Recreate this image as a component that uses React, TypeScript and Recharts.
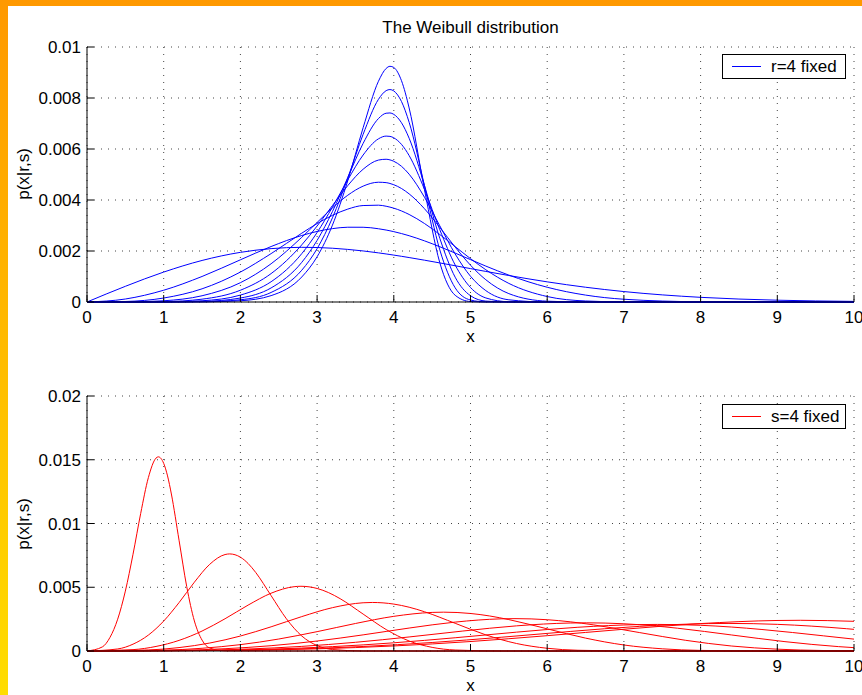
import { LineChart, Line, XAxis, YAxis, CartesianGrid, Legend } from 'recharts';

const FONT = "'Liberation Sans', Arial, Helvetica, sans-serif";

// axis ticks
const xTicks = [0, 1, 2, 3, 4, 5, 6, 7, 8, 9, 10];
const topYTicks = [0, 0.002, 0.004, 0.006, 0.008, 0.01];
const bottomYTicks = [0, 0.005, 0.01, 0.015, 0.02];

// upper panel: r = 4 fixed, s = 2..10 (shared x samples)
const topX = [0, 0.5, 1, 1.5, 2, 2.4, 2.8, 3, 3.2, 3.4, 3.6, 3.8, 3.9, 3.95, 4, 4.1, 4.2, 4.4, 4.6, 4.8, 5, 5.2, 5.5, 6, 6.5, 7, 8, 9, 10];
const shape2 = [0, 0.000615, 0.001174, 0.001629, 0.001947, 0.002093, 0.002144, 0.002137, 0.002109, 0.002063, 0.002002, 0.001927, 0.001884, 0.001862, 0.001839, 0.001792, 0.001743, 0.00164, 0.001532, 0.001422, 0.00131, 0.001199, 0.001038, 0.00079, 0.000579, 0.000409, 0.000183, 0.000071, 0.000024];
const shape3 = [0, 0.000117, 0.000462, 0.001001, 0.001655, 0.002175, 0.002608, 0.002767, 0.002877, 0.002932, 0.002931, 0.002872, 0.002822, 0.002792, 0.002759, 0.002684, 0.002599, 0.002398, 0.002167, 0.001918, 0.001662, 0.001408, 0.001054, 0.000578, 0.000271, 0.000108, 0.00001, 0, 0];
const shape4 = [0, 0.00002, 0.000156, 0.000517, 0.001174, 0.001897, 0.002698, 0.003075, 0.003399, 0.003643, 0.003783, 0.003797, 0.003755, 0.003721, 0.003679, 0.003571, 0.003433, 0.003078, 0.002646, 0.002172, 0.0017, 0.001264, 0.000729, 0.000214, 0.00004, 0.000005, 0, 0, 0];
const shape5 = [0, 0.000003, 0.000049, 0.000245, 0.000757, 0.001499, 0.002537, 0.003119, 0.00369, 0.004187, 0.004544, 0.004697, 0.004681, 0.004648, 0.004599, 0.004451, 0.00424, 0.003657, 0.002925, 0.002153, 0.001443, 0.000872, 0.000328, 0.000032, 0.000001, 0, 0, 0, 0];
const shape6 = [0, 0, 0.000015, 0.000111, 0.000462, 0.001113, 0.002241, 0.00298, 0.003782, 0.004565, 0.005206, 0.005566, 0.005598, 0.005573, 0.005518, 0.005322, 0.005012, 0.004109, 0.002986, 0.001884, 0.001009, 0.000446, 0.000086, 0.000001, 0, 0, 0, 0, 0];
const shape7 = [0, 0, 0.000004, 0.000049, 0.000271, 0.000794, 0.001896, 0.002725, 0.00372, 0.00479, 0.005764, 0.006399, 0.006506, 0.006495, 0.006438, 0.006182, 0.005743, 0.004415, 0.002832, 0.001452, 0.000568, 0.000159, 0.000011, 0, 0, 0, 0, 0, 0];
const shape8 = [0, 0, 0.000001, 0.000021, 0.000156, 0.000551, 0.001555, 0.002415, 0.003546, 0.004882, 0.00622, 0.007194, 0.007403, 0.007414, 0.007358, 0.00703, 0.006422, 0.004567, 0.002497, 0.000973, 0.000246, 0.000036, 0.000001, 0, 0, 0, 0, 0, 0];
const shape9 = [0, 0, 0, 0.000009, 0.000088, 0.000374, 0.001246, 0.00209, 0.003301, 0.004864, 0.006575, 0.007948, 0.008288, 0.008331, 0.008277, 0.007863, 0.007048, 0.004565, 0.002042, 0.000556, 0.000078, 0.000005, 0, 0, 0, 0, 0, 0, 0];
const shape10 = [0, 0, 0, 0.000004, 0.000049, 0.00025, 0.000981, 0.001774, 0.003014, 0.004756, 0.006834, 0.008657, 0.009159, 0.009243, 0.009197, 0.00868, 0.00761, 0.004408, 0.001539, 0.000264, 0.000017, 0.000001, 0, 0, 0, 0, 0, 0, 0];

// lower panel: s = 4 fixed, r = 1..10, each curve as [x, p] pairs
type Pt = [number, number];
const scale1: Pt[] = [[0, 0], [0.2, 0.00032], [0.3, 0.001071], [0.4, 0.002495], [0.5, 0.004697], [0.6, 0.007589], [0.7, 0.010792], [0.8, 0.013597], [0.9, 0.015131], [0.93, 0.015228], [1, 0.014715], [1.05, 0.013734], [1.1, 0.012314], [1.2, 0.00869], [1.3, 0.005054], [1.4, 0.002355], [1.5, 0.000855], [1.6, 0.000233], [1.8, 0.000006], [2, 0], [10, 0]];
const scale2: Pt[] = [[0, 0], [0.4, 0.00016], [0.6, 0.000536], [0.8, 0.001248], [1, 0.002349], [1.2, 0.003795], [1.4, 0.005396], [1.6, 0.006799], [1.8, 0.007566], [1.86, 0.007614], [2, 0.007358], [2.1, 0.006867], [2.2, 0.006157], [2.4, 0.004345], [2.6, 0.002527], [2.8, 0.001178], [3, 0.000427], [3.2, 0.000117], [3.6, 0.000003], [4, 0], [10, 0]];
const scale3: Pt[] = [[0, 0], [0.6, 0.000107], [0.9, 0.000357], [1.2, 0.000832], [1.5, 0.001566], [1.8, 0.00253], [2.1, 0.003597], [2.4, 0.004532], [2.7, 0.005044], [2.79, 0.005076], [3, 0.004905], [3.15, 0.004578], [3.3, 0.004105], [3.6, 0.002897], [3.9, 0.001685], [4.2, 0.000785], [4.5, 0.000285], [4.8, 0.000078], [5.4, 0.000002], [6, 0], [10, 0]];
const scale4: Pt[] = [[0, 0], [0.8, 0.00008], [1.2, 0.000268], [1.6, 0.000624], [2, 0.001174], [2.4, 0.001897], [2.8, 0.002698], [3.2, 0.003399], [3.6, 0.003783], [3.72, 0.003807], [4, 0.003679], [4.2, 0.003434], [4.4, 0.003079], [4.8, 0.002173], [5.2, 0.001264], [5.6, 0.000589], [6, 0.000214], [6.4, 0.000058], [7.2, 0.000002], [8, 0], [10, 0]];
const scale5: Pt[] = [[0, 0], [1, 0.000064], [1.5, 0.000214], [2, 0.000499], [2.5, 0.000939], [3, 0.001518], [3.5, 0.002158], [4, 0.002719], [4.5, 0.003026], [4.65, 0.003046], [5, 0.002943], [5.25, 0.002747], [5.5, 0.002463], [6, 0.001738], [6.5, 0.001011], [7, 0.000471], [7.5, 0.000171], [8, 0.000047], [9, 0.000001], [10, 0]];
const scale6: Pt[] = [[0, 0], [1.2, 0.000053], [1.8, 0.000179], [2.4, 0.000416], [3, 0.000783], [3.6, 0.001265], [4.2, 0.0018], [4.8, 0.002267], [5.4, 0.002523], [5.58, 0.002539], [6, 0.002454], [6.3, 0.00229], [6.6, 0.002053], [7.2, 0.001449], [7.8, 0.000843], [8.4, 0.000393], [9, 0.000143], [9.6, 0.000039], [10, 0.000014]];
const scale7: Pt[] = [[0, 0], [1.4, 0.000046], [2.1, 0.000155], [2.8, 0.000362], [3.5, 0.000682], [4.2, 0.001101], [4.9, 0.001566], [5.6, 0.001973], [6.3, 0.002196], [6.51, 0.00221], [7, 0.002135], [7.35, 0.001993], [7.7, 0.001787], [8.4, 0.001261], [9.1, 0.000733], [9.8, 0.000342], [10, 0.000263]];
const scale8: Pt[] = [[0, 0], [1.6, 0.000044], [2.4, 0.000147], [3.2, 0.000342], [4, 0.000643], [4.8, 0.001039], [5.6, 0.001478], [6.4, 0.001862], [7.2, 0.002072], [7.44, 0.002085], [8, 0.002015], [8.4, 0.001881], [8.8, 0.001686], [9.6, 0.00119], [10, 0.000931]];
const scale9: Pt[] = [[0, 0], [1.8, 0.000045], [2.7, 0.000152], [3.6, 0.000354], [4.5, 0.000667], [5.4, 0.001078], [6.3, 0.001533], [7.2, 0.001931], [8.1, 0.002149], [8.37, 0.002163], [9, 0.00209], [9.45, 0.001951], [9.9, 0.001749], [10, 0.001698]];
const scale10: Pt[] = [[0, 0], [2, 0.000051], [3, 0.000169], [4, 0.000395], [5, 0.000743], [6, 0.001201], [7, 0.001707], [8, 0.002151], [9, 0.002394], [9.3, 0.002409], [10, 0.002328]];

const topShapes = [shape2, shape3, shape4, shape5, shape6, shape7, shape8, shape9, shape10];
const topTable = topX.map((x, i) => {
  const row: Record<string, number> = { x };
  topShapes.forEach((s, k) => {
    row['s' + (k + 2)] = s[i];
  });
  return row;
});

const bottomScales = [scale1, scale2, scale3, scale4, scale5, scale6, scale7, scale8, scale9, scale10];
const bottomRows = bottomScales.map((c) => c.map(([x, p]) => ({ x, p })));

// MATLAB-style ticks: short marks pointing into the plot
function YTick({ x, y, payload }: any) {
  return (
    <g>
      <line x1={x} x2={x + 7} y1={y} y2={y} stroke="#000" />
      <text x={x - 6} y={y} dy="0.36em" textAnchor="end" fontSize={17} fontFamily={FONT} fill="#000">
        {String(payload.value)}
      </text>
    </g>
  );
}

function XTick({ x, y, payload }: any) {
  return (
    <g>
      <line x1={x} x2={x} y1={y} y2={y - 7} stroke="#000" />
      <text x={x} y={y + 21} textAnchor="middle" fontSize={17} fontFamily={FONT} fill="#000">
        {String(payload.value)}
      </text>
    </g>
  );
}

function LegendBox({ label, color }: { label: string; color: string }) {
  return (
    <div
      style={{
        width: 124,
        height: 25,
        boxSizing: 'border-box',
        border: '1px solid #000',
        background: '#fff',
        position: 'relative',
        fontFamily: FONT,
        fontSize: 17,
        color: '#000',
      }}
    >
      <div style={{ position: 'absolute', left: 9, top: 11, width: 29, height: 1, background: color }} />
      <span style={{ position: 'absolute', left: 48, top: 2, lineHeight: '19px', whiteSpace: 'nowrap' }}>{label}</span>
    </div>
  );
}

const grid = <CartesianGrid stroke="#444" strokeDasharray="1 6" />;

export default function App() {
  return (
    <div
      style={{
        position: 'fixed',
        left: 0,
        top: 0,
        width: 862,
        height: 695,
        overflow: 'hidden',
        background: 'linear-gradient(to bottom, #ff9900, #ffdd00)',
        fontFamily: FONT,
      }}
    >
      <div style={{ position: 'absolute', left: 8, top: 6, right: 0, bottom: 0, background: '#fff' }} />

      <div style={{ position: 'absolute', left: 0, top: 0 }}>
        <LineChart width={862} height={349} data={topTable} margin={{ top: 47, right: 8, bottom: 0, left: 0 }}>
          {grid}
          <XAxis dataKey="x" type="number" domain={[0, 10]} ticks={xTicks} interval={0} height={47}
            tickSize={0} tickMargin={0} tickLine={false} axisLine={{ stroke: '#000' }} tick={XTick} />
          <YAxis type="number" domain={[0, 0.01]} ticks={topYTicks} interval={0} width={87}
            tickSize={0} tickMargin={0} tickLine={false} axisLine={{ stroke: '#000' }} tick={YTick} />
          <Legend layout="vertical" align="center" verticalAlign="middle"
            wrapperStyle={{ top: 54, left: 722, width: 124, height: 25 }}
            content={() => <LegendBox label="r=4 fixed" color="#0000ff" />} />
          {topShapes.map((_, k) => (
            <Line key={k} type="monotone" dataKey={'s' + (k + 2)} stroke="#0000ff" strokeWidth={1}
              dot={false} activeDot={false} isAnimationActive={false} legendType="none" />
          ))}
        </LineChart>
      </div>

      <div style={{ position: 'absolute', left: 0, top: 349 }}>
        <LineChart width={862} height={346} margin={{ top: 47, right: 8, bottom: 0, left: 0 }}>
          {grid}
          <XAxis dataKey="x" type="number" domain={[0, 10]} ticks={xTicks} interval={0} height={44}
            tickSize={0} tickMargin={0} tickLine={false} axisLine={{ stroke: '#000' }} tick={XTick} />
          <YAxis type="number" domain={[0, 0.02]} ticks={bottomYTicks} interval={0} width={87}
            tickSize={0} tickMargin={0} tickLine={false} axisLine={{ stroke: '#000' }} tick={YTick} />
          <Legend layout="vertical" align="center" verticalAlign="middle"
            wrapperStyle={{ top: 55, left: 722, width: 124, height: 25 }}
            content={() => <LegendBox label="s=4 fixed" color="#ff0000" />} />
          {bottomRows.map((rows, k) => (
            <Line key={k} data={rows} type="monotone" dataKey="p" stroke="#ff0000" strokeWidth={1}
              dot={false} activeDot={false} isAnimationActive={false} legendType="none" />
          ))}
        </LineChart>
      </div>

      {/* titles and axis captions */}
      <svg width={862} height={695} style={{ position: 'absolute', left: 0, top: 0, pointerEvents: 'none' }}>
        <g fontFamily={FONT} fontSize={17} fill="#000">
          <text x={470.5} y={33} textAnchor="middle">The Weibull distribution</text>
          <text x={470.5} y={342} textAnchor="middle">x</text>
          <text x={470.5} y={691} textAnchor="middle">x</text>
          <text transform="translate(29,174) rotate(-90)" textAnchor="middle">p(x|r,s)</text>
          <text transform="translate(29,524) rotate(-90)" textAnchor="middle">p(x|r,s)</text>
        </g>
      </svg>
    </div>
  );
}
